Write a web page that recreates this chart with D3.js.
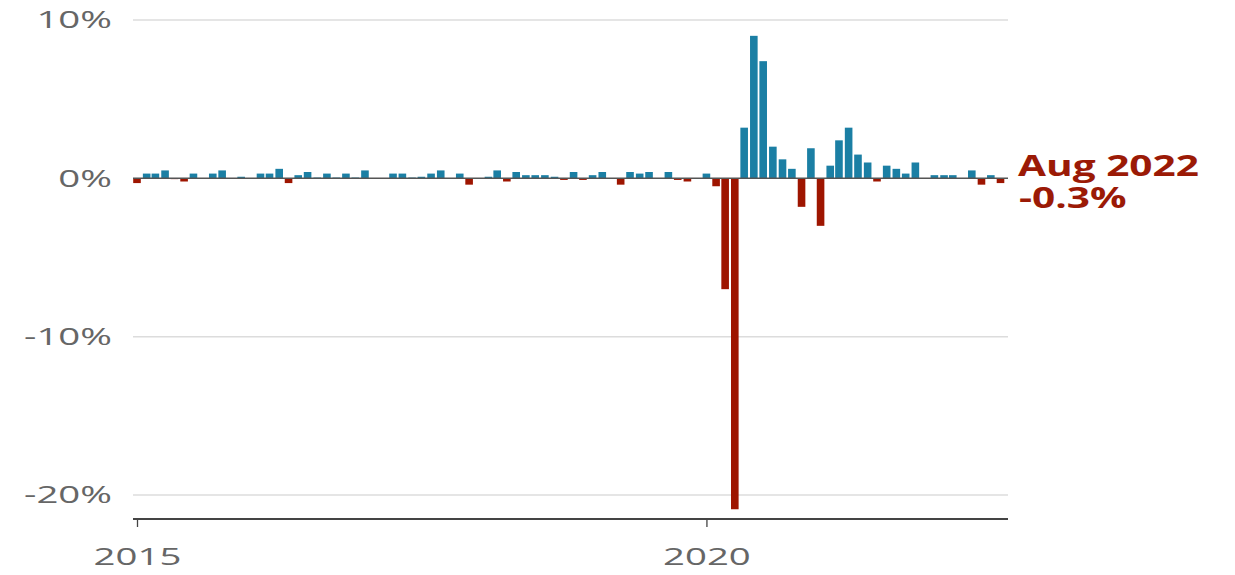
<!DOCTYPE html>
<html><head><meta charset="utf-8">
<script src="https://cdn.jsdelivr.net/npm/d3@7"></script>
<style>body{margin:0;background:#fff}svg{display:block}</style>
</head><body>
<script>
const startMonth = "2015-01";
const v2015 = [-0.3, 0.3, 0.3, 0.5, -0.05, -0.2, 0.3, 0.0, 0.3, 0.5, 0.0, 0.1];
const v2016 = [0.0, 0.3, 0.3, 0.6, -0.3, 0.2, 0.4, 0.05, 0.3, 0.05, 0.3, 0.05];
const v2017 = [0.5, 0.0, 0.0, 0.3, 0.3, 0.05, 0.1, 0.3, 0.5, 0.0, 0.3, -0.4];
const v2018 = [0.0, 0.1, 0.5, -0.2, 0.4, 0.2, 0.2, 0.2, 0.1, -0.1, 0.4, -0.1];
const v2019 = [0.2, 0.4, 0.0, -0.4, 0.4, 0.3, 0.4, 0.0, 0.4, -0.1, -0.2, 0.0];
const v2020 = [0.3, -0.5, -7.0, -20.9, 3.2, 9.0, 7.4, 2.0, 1.2, 0.6, -1.8, 1.9];
const v2021 = [-3.0, 0.8, 2.4, 3.2, 1.5, 1.0, -0.2, 0.8, 0.6, 0.3, 1.0, 0.0];
const v2022 = [0.2, 0.2, 0.2, 0.0, 0.5, -0.4, 0.2, -0.3];
const yTicks = [10, 0, -10, -20];
const xTickYears = [2015, 2020];
const labelLine1 = "Aug 2022";
const labelLine2 = "-0.3%";

const values = [].concat(v2015, v2016, v2017, v2018, v2019, v2020, v2021, v2022);
const parse = d3.timeParse("%Y-%m");
const t0 = parse(startMonth);
const data = values.map((v, i) => ({date: d3.timeMonth.offset(t0, i), value: v}));

const W = 1235, H = 575;
const SX = 1.6; // horizontal text stretch seen in the reference
const svg = d3.select("body").append("svg").attr("width", W).attr("height", H);

const x = d3.scaleTime().domain([data[0].date, data[data.length-1].date]).range([137, 1000.5]);
const y = d3.scaleLinear().domain([-20, 10]).range([495, 20]);
const left = 133, right = 1008;
const barW = 7.6;

// gridlines
svg.append("g").selectAll("line").data(yTicks.filter(d => d !== 0)).join("line")
  .attr("x1", left).attr("x2", right)
  .attr("y1", d => y(d)).attr("y2", d => y(d))
  .attr("stroke", "#dcdcdc").attr("stroke-width", 1.5);

// y labels
svg.append("g").selectAll("text").data(yTicks).join("text")
  .attr("transform", d => `translate(112,${y(d)}) scale(${SX},1)`)
  .attr("text-anchor", "end").attr("dy", "0.35em")
  .attr("font-family", "Open Sans").attr("font-size", 24).attr("fill", "#666")
  .text(d => d + "%");

// bars
svg.append("g").selectAll("rect").data(data).join("rect")
  .attr("x", d => x(d.date) - barW/2)
  .attr("width", barW)
  .attr("y", d => y(Math.max(0, d.value)))
  .attr("height", d => Math.abs(y(d.value) - y(0)))
  .attr("fill", d => d.value >= 0 ? "#1b7fa4" : "#9e1500");

// zero line
svg.append("line").attr("x1", left).attr("x2", right)
  .attr("y1", y(0)).attr("y2", y(0)).attr("stroke", "#555").attr("stroke-width", 1.5);

// bottom axis
const xAxis = d3.axisBottom(x)
  .tickValues(xTickYears.map(yr => new Date(yr, 0, 1)))
  .tickSize(8).tickFormat(d3.timeFormat("%Y"));
const ax = svg.append("g").attr("transform", "translate(0,519)").call(xAxis);
ax.select(".domain").remove();
ax.selectAll(".tick line").attr("stroke", "#444").attr("stroke-width", 1.3);
ax.selectAll(".tick text").attr("fill", "#666").attr("font-family", "Open Sans")
  .attr("font-size", 24).attr("y", 0).attr("dy", 0)
  .attr("transform", `translate(0,46) scale(${SX},1)`);
svg.append("line").attr("x1", left).attr("x2", right).attr("y1", 519).attr("y2", 519)
  .attr("stroke", "#444").attr("stroke-width", 1.8);

// end label (one text, two lines)
const last = data[data.length-1];
const lab = svg.append("text").attr("font-family", "Open Sans").attr("font-weight", "bold")
  .attr("font-size", 28).attr("fill", "#9b1a06")
  .attr("transform", `translate(1018,${y(last.value) - 7}) scale(1.45,1)`);
lab.append("tspan").attr("x", 0).attr("y", 0).text(labelLine1);
lab.append("tspan").attr("x", 0.7).attr("y", 32).text(labelLine2);
</script>
</body></html>
